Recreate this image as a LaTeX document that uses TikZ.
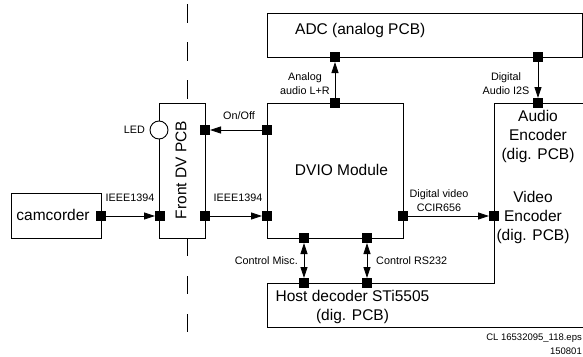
\documentclass[tikz,border=0pt]{standalone}
\usepackage{fontspec}
\setmainfont{Liberation Sans}
\usetikzlibrary{arrows.meta}
\tikzset{
  box/.style={draw,line width=0.9pt,minimum width=#1,inner sep=0pt},
  port/.style={fill=black,minimum size=10pt,inner sep=0pt,outer sep=0pt},
  big/.style={font=\fontsize{15.5}{19}\selectfont,align=center,inner sep=0pt},
  lbl/.style={font=\fontsize{10.8}{14}\selectfont,align=center,inner sep=0pt},
  arr/.style={line width=0.8pt,-{Triangle[length=11pt,width=7pt]}},
  darr/.style={line width=0.8pt,{Triangle[length=11pt,width=7pt]}-{Triangle[length=11pt,width=7pt]}},
  border/.style={line width=0.9pt},
}
\begin{document}
\begin{tikzpicture}[x=1pt,y=-1pt]
\useasboundingbox (0,0) rectangle (583,356);
% dashed separation line
\draw[line width=0.9pt,dash pattern=on 19pt off 19pt] (187,4) -- (187,103);
\draw[line width=0.9pt,dash pattern=on 18pt off 20pt] (187,238) -- (187,333);
% boxes
\node[box=90pt,minimum height=45pt] (cam) at (56,215.5) {};
\node[big,anchor=center] (camt) at (53,215) {camcorder};
\node[box=46pt,minimum height=135pt] (front) at (182,170.5) {};
\node[big,rotate=90] (frontt) at (181,170) {Front DV PCB};
\node[box=136pt,minimum height=135pt] (dvio) at (335,170.5) {};
\node[big] (dviot) at (341.5,170) {DVIO Module};
\node[box=315pt,minimum height=44pt] (adc) at (424.5,35) {};
\node[big,anchor=west] (adct) at (295,30) {ADC (analog PCB)};
% encoder / host decoder outline
\draw[border] (583,103) -- (494,103) -- (494,283) -- (267,283) -- (267,327) -- (583,327);
\node[big] (audenc) at (538,136.5) {Audio\\Encoder\\(dig. PCB)};
\node[big] (videnc) at (533,217.5) {Video\\Encoder\\(dig. PCB)};
\node[big] (host) at (352.5,307) {Host decoder STi5505\\(dig. PCB)};
% LED
\node[draw,circle,fill=white,line width=0.9pt,minimum size=18pt,inner sep=0pt] (led) at (159,130) {};
\node[lbl,anchor=east] (ledt) at (145,130) {LED};
% ports
\node[port] (p1) at (101,216) {};
\node[port] (p2) at (160,216) {};
\node[port] (p3) at (205,216) {};
\node[port] (p4) at (267,216) {};
\node[port] (p5) at (267,130) {};
\node[port] (p6) at (205,130) {};
\node[port] (p7) at (335,103) {};
\node[port] (p8) at (335,57) {};
\node[port] (p9) at (538,57) {};
\node[port] (p10) at (538,103) {};
\node[port] (p11) at (403,216) {};
\node[port] (p12) at (494,216) {};
\node[port] (p13) at (304,238) {};
\node[port] (p14) at (304,283) {};
\node[port] (p15) at (367,238) {};
\node[port] (p16) at (367,283) {};
% connectors
\draw[arr] (p1) -- (p2);
\draw[arr] (p3) -- (p4);
\draw[arr] (p5) -- (p6);
\draw[arr] (p7) -- (p8);
\draw[arr] (p9) -- (p10);
\draw[arr] (p11) -- (p12);
\draw[darr] (p13) -- (p14);
\draw[darr] (p15) -- (p16);
% labels
\node[lbl] (l1) at (130,198) {IEEE1394};
\node[lbl] (l2) at (238,198) {IEEE1394};
\node[lbl] (l3) at (239,116) {On/Off};
\node[lbl] (l4) at (305,84) {Analog\\audio L+R};
\node[lbl] (l5) at (506,84) {Digital\\Audio I2S};
\node[lbl] (l6) at (439,200.5) {Digital video\\CCIR656};
\node[lbl,anchor=east] (l7) at (298,261) {Control Misc.};
\node[lbl,anchor=west] (l8) at (376,261) {Control RS232};
\node[font=\fontsize{9.5}{14}\selectfont,align=right,anchor=east,inner sep=0pt] (foot) at (582,344) {CL 16532095\_118.eps\\150801};
\end{tikzpicture}
\end{document}
